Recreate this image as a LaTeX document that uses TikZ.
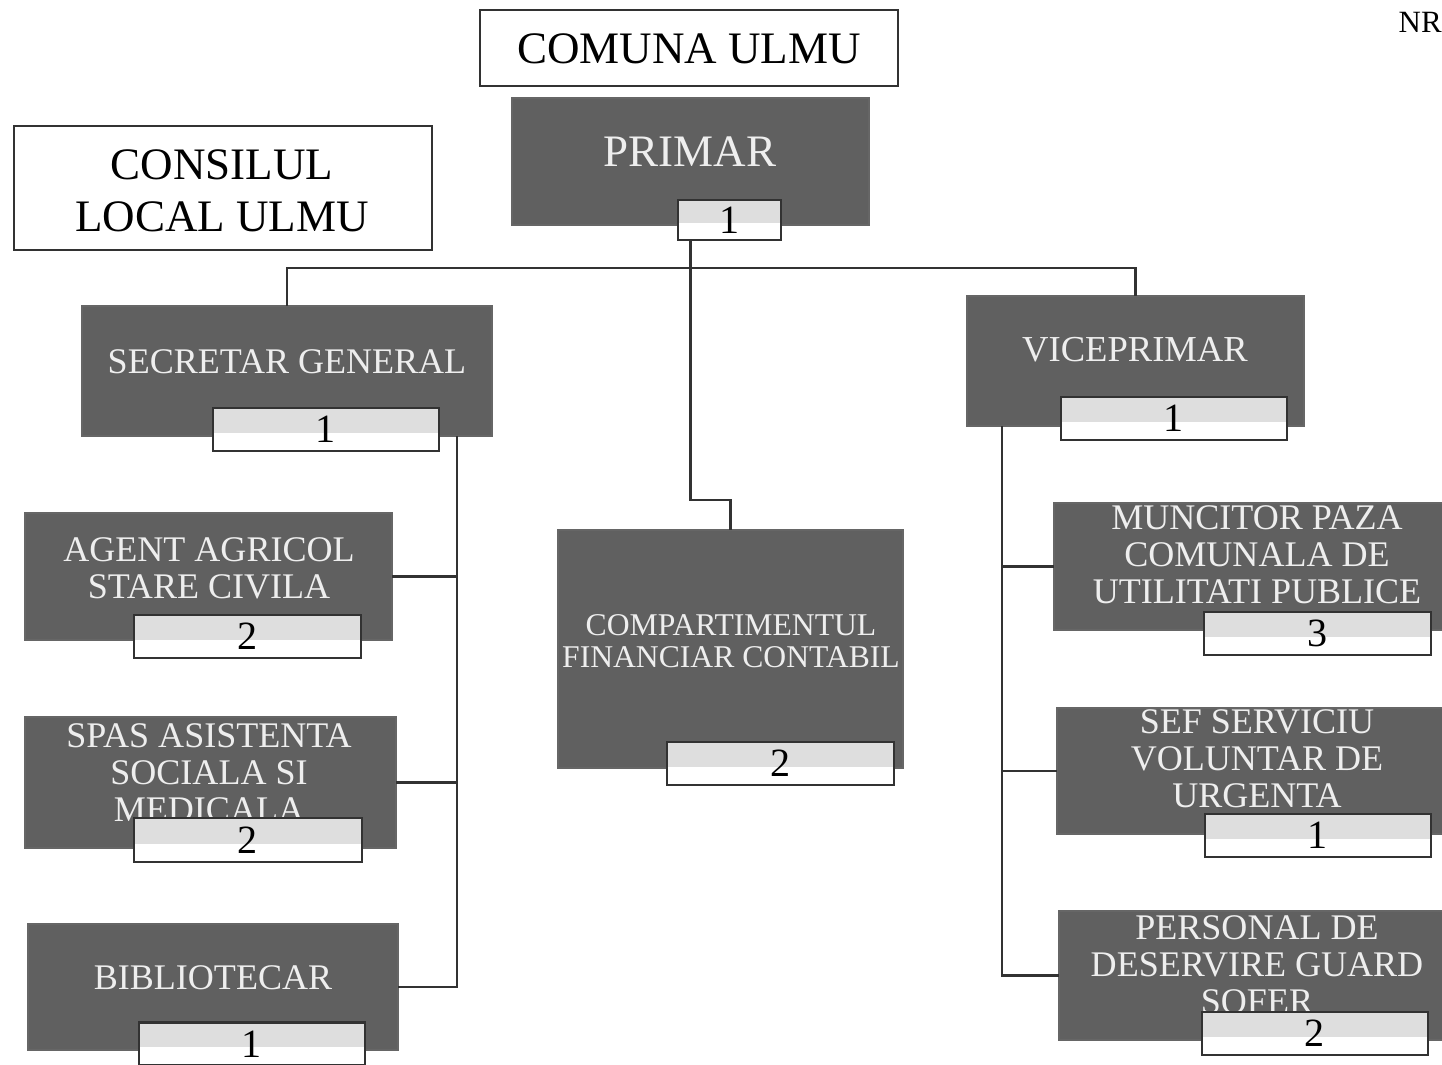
\documentclass[tikz,border=0pt]{standalone}
\usepackage{fontspec}
\setmainfont{Liberation Serif}
\usetikzlibrary{calc}
\definecolor{boxgray}{RGB}{96,96,96}
\definecolor{txtlight}{RGB}{238,238,238}
\definecolor{edgegray}{RGB}{50,50,50}
\newcommand{\fsz}[2]{\fontsize{#1}{#2}\selectfont}
\begin{document}
\begin{tikzpicture}[x=0.01cm,y=-0.01cm,
  sz/.style 2 args={minimum width=#1*0.01cm, minimum height=#2*0.01cm},
  whitebox/.style={draw=edgegray, line width=0.6pt, fill=white, inner sep=0pt, outer sep=0pt},
  darkbox/.style={draw=black!60, line width=0.5pt, fill=boxgray, inner sep=0pt, outer sep=0pt},
  numbox/.style={draw=edgegray, line width=0.6pt, fill=white, inner sep=0pt, outer sep=0pt,
    font=\fsz{11.4}{12},
    path picture={\fill[black!13] (path picture bounding box.north west) rectangle
      ($(path picture bounding box.south east)!0.42!(path picture bounding box.north east)$);}},
  bigtxt/.style={inner sep=0pt, align=center, font=\fsz{12.8}{14.8}, text=black},
  midtxt/.style={inner sep=0pt, align=center, font=\fsz{10.25}{10.5}, text=txtlight},
  smalltxt/.style={inner sep=0pt, align=center, font=\fsz{9}{9.1}, text=txtlight},
  primtxt/.style={inner sep=0pt, align=center, font=\fsz{12.8}{14}, text=txtlight},
  conn/.style={draw=edgegray, line width=0.6pt}
]
\clip (0,0) rectangle (1442,1065);
\fill[white] (0,0) rectangle (1442,1065);

% header boxes
\node[whitebox, sz={418}{76}] (comuna) at (689,48) {};
\node[bigtxt] (comunat) at (689,49) {COMUNA ULMU};
\node[whitebox, sz={418}{124}] (cons) at (223,188) {};
\node[bigtxt] (const) at (222,191) {CONSILUL\\LOCAL ULMU};
\node[anchor=base west, inner sep=0pt, font=\fsz{8.8}{10}] (nr) at (1398,33) {NR};

% primar
\node[darkbox, sz={357}{127}] (prim) at (690.5,161.5) {};
\node[primtxt] (primt) at (690,152) {PRIMAR};
\node[numbox, sz={103}{40}] (primn) at (729.5,220) {1};

% secretar
\node[darkbox, sz={410}{130}] (sec) at (287,371) {};
\node[midtxt] (sect) at (287,362) {SECRETAR GENERAL};
\node[numbox, sz={226}{43}] (secn) at (326,429.5) {1};

% viceprimar
\node[darkbox, sz={337}{130}] (vice) at (1135.5,361) {};
\node[midtxt, font=\fsz{10.4}{10.6}] (vicet) at (1135,350) {VICEPRIMAR};
\node[numbox, sz={226}{43}] (vicen) at (1174,418.5) {1};

% left column
\node[darkbox, sz={367}{127}] (agent) at (208.5,576.5) {};
\node[midtxt] (agentt) at (209,568) {AGENT AGRICOL\\STARE CIVILA};
\node[numbox, sz={227}{43}] (agentn) at (247.5,636.5) {2};

\node[darkbox, sz={371}{131}] (spas) at (210.5,782.5) {};
\node[midtxt] (spast) at (209,773) {SPAS ASISTENTA\\SOCIALA SI\\MEDICALA};
\node[numbox, sz={228}{44}] (spasn) at (248,840) {2};

\node[darkbox, sz={370}{126}] (bib) at (213,987) {};
\node[midtxt] (bibt) at (213,978) {BIBLIOTECAR};
\node[numbox, sz={226}{43}] (bibn) at (252,1044) {1};

% center
\node[darkbox, sz={345}{238}] (comp) at (730.5,649) {};
\node[smalltxt] (compt) at (731,641) {COMPARTIMENTUL\\FINANCIAR CONTABIL};
\node[numbox, sz={227}{43}] (compn) at (780.5,763.5) {2};

% right column
\node[darkbox, sz={416}{127}] (munc) at (1262,566.5) {};
\node[midtxt] (munct) at (1257,555) {MUNCITOR PAZA\\COMUNALA DE\\UTILITATI PUBLICE};
\node[numbox, sz={227}{43}] (muncn) at (1317.5,633.5) {3};

\node[darkbox, sz={413}{126}] (sef) at (1263.5,771) {};
\node[midtxt] (seft) at (1257,759) {SEF SERVICIU\\VOLUNTAR DE\\URGENTA};
\node[numbox, sz={226}{43}] (sefn) at (1318,835.5) {1};

\node[darkbox, sz={411}{129}] (pers) at (1264.5,975.5) {};
\node[midtxt] (perst) at (1257,965) {PERSONAL DE\\DESERVIRE GUARD\\SOFER};
\node[numbox, sz={226}{43}] (persn) at (1315,1033.5) {2};

% connectors
\coordinate (busL) at (sec.north |- 0,268);
\coordinate (busR) at (vice.north |- 0,268);
\draw[conn] (sec.north) -- (busL) -- (busR) -- (vice.north);

\coordinate (pdrop) at (prim.south |- primn.south);
\coordinate (pbend) at (prim.south |- 0,500);
\draw[conn] (pdrop) -- (pbend) -| (comp.north);

\coordinate (secv) at (457,436);
\draw[conn] (secv) |- (bib.east);
\draw[conn] (agent.east) -- (agent.east -| secv);
\draw[conn] (spas.east) -- (spas.east -| secv);

\coordinate (vicev) at (1002,426);
\draw[conn] (vicev) |- (pers.west);
\draw[conn] (munc.west) -- (munc.west -| vicev);
\draw[conn] (sef.west) -- (sef.west -| vicev);
\end{tikzpicture}
\end{document}
